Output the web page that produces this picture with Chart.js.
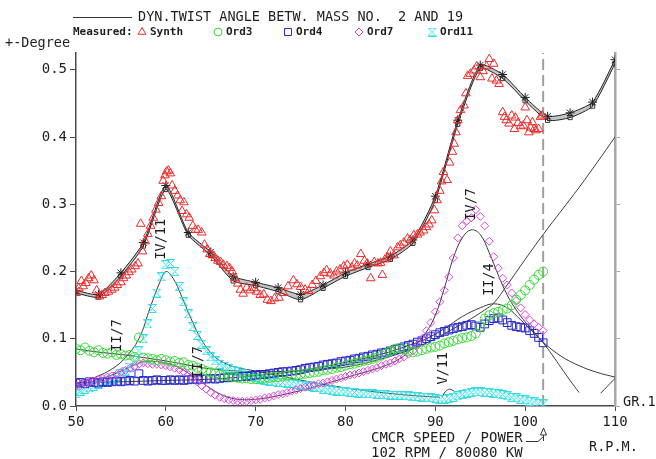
<!DOCTYPE html>
<html>
<head>
<meta charset="utf-8">
<script src="https://cdn.jsdelivr.net/npm/chart.js@4"></script>
<style>
  html, body { margin: 0; padding: 0; background: #fff; }
</style>
</head>
<body>
<canvas id="twist" width="656" height="459"></canvas>
<script>
// speed grid for the order analysis (rpm)
const rpm = [
  50, 50.5, 51, 51.5, 52, 52.5, 53, 53.5, 54, 54.5,
  55, 55.5, 56, 56.5, 57, 57.5, 58, 58.5, 59, 59.5,
  60, 60.5, 61, 61.5, 62, 62.5, 63, 63.5, 64, 64.5,
  65, 65.5, 66, 66.5, 67, 67.5, 68, 68.5, 69, 69.5,
  70, 70.5, 71, 71.5, 72, 72.5, 73, 73.5, 74, 74.5,
  75, 75.5, 76, 76.5, 77, 77.5, 78, 78.5, 79, 79.5,
  80, 80.5, 81, 81.5, 82, 82.5, 83, 83.5, 84, 84.5,
  85, 85.5, 86, 86.5, 87, 87.5, 88, 88.5, 89, 89.5,
  90, 90.5, 91, 91.5, 92, 92.5, 93, 93.5, 94, 94.5,
  95, 95.5, 96, 96.5, 97, 97.5, 98, 98.5, 99, 99.5,
  100, 100.5, 101, 101.5, 102
];

// measured order amplitudes (+- degree)
const ord3 = [
  0.085, 0.083, 0.087, 0.082, 0.080, 0.083, 0.079, 0.078, 0.080, 0.076,
  0.077, 0.075, 0.076, 0.073, 0.102, 0.072, 0.071, 0.070, 0.068, 0.070,
  0.068, 0.066, 0.067, 0.064, 0.065, 0.061, 0.060, 0.057, 0.055, 0.052,
  0.050, 0.048, 0.046, 0.045, 0.044, 0.043, 0.042, 0.041, 0.041, 0.040,
  0.040, 0.041, 0.041, 0.042, 0.043, 0.043, 0.044, 0.045, 0.046, 0.046,
  0.047, 0.048, 0.049, 0.050, 0.051, 0.053, 0.054, 0.055, 0.057, 0.058,
  0.060, 0.062, 0.063, 0.065, 0.067, 0.068, 0.070, 0.072, 0.075, 0.078,
  0.082, 0.085, 0.086, 0.084, 0.082, 0.080, 0.081, 0.083, 0.085, 0.087,
  0.088, 0.090, 0.093, 0.095, 0.097, 0.099, 0.101, 0.102, 0.104, 0.108,
  0.118, 0.130, 0.135, 0.138, 0.140, 0.143, 0.145, 0.150, 0.158, 0.165,
  0.172, 0.180, 0.188, 0.195, 0.200
];
const ord4 = [
  0.034, 0.035, 0.033, 0.036, 0.035, 0.034, 0.036, 0.035, 0.036, 0.037,
  0.036, 0.037, 0.038, 0.037, 0.048, 0.038, 0.037, 0.038, 0.039, 0.038,
  0.038, 0.039, 0.038, 0.039, 0.038, 0.039, 0.040, 0.039, 0.040, 0.040,
  0.041, 0.040, 0.041, 0.042, 0.042, 0.043, 0.043, 0.044, 0.044, 0.045,
  0.046, 0.047, 0.047, 0.048, 0.049, 0.050, 0.051, 0.051, 0.052, 0.053,
  0.054, 0.056, 0.057, 0.058, 0.059, 0.061, 0.062, 0.063, 0.064, 0.066,
  0.067, 0.068, 0.070, 0.071, 0.073, 0.074, 0.076, 0.077, 0.079, 0.080,
  0.082, 0.084, 0.086, 0.088, 0.090, 0.092, 0.095, 0.097, 0.100, 0.103,
  0.106, 0.109, 0.111, 0.113, 0.115, 0.117, 0.118, 0.120, 0.121, 0.119,
  0.117, 0.122, 0.127, 0.130, 0.131, 0.128, 0.124, 0.120, 0.118, 0.117,
  0.116, 0.112, 0.108, 0.102, 0.094
];
const ord7 = [
  0.030, 0.031, 0.033, 0.035, 0.037, 0.039, 0.041, 0.043, 0.045, 0.047,
  0.050, 0.053, 0.056, 0.059, 0.062, 0.064, 0.063, 0.062, 0.062, 0.061,
  0.060, 0.058, 0.056, 0.054, 0.051, 0.047, 0.042, 0.036, 0.030, 0.025,
  0.020, 0.016, 0.013, 0.011, 0.009, 0.008, 0.007, 0.007, 0.007, 0.008,
  0.009, 0.010, 0.012, 0.013, 0.015, 0.017, 0.018, 0.020, 0.022, 0.024,
  0.026, 0.028, 0.029, 0.031, 0.033, 0.034, 0.036, 0.038, 0.040, 0.042,
  0.044, 0.046, 0.047, 0.049, 0.051, 0.053, 0.055, 0.057, 0.060, 0.062,
  0.064, 0.067, 0.070, 0.073, 0.077, 0.082, 0.090, 0.100, 0.112, 0.124,
  0.140, 0.155, 0.172, 0.192, 0.220, 0.250, 0.268, 0.275, 0.280, 0.292,
  0.282, 0.268, 0.245, 0.222, 0.205, 0.190, 0.180, 0.168, 0.157, 0.146,
  0.136, 0.128, 0.122, 0.117, 0.112
];
const ord11 = [
  0.018, 0.022, 0.025, 0.027, 0.029, 0.032, 0.035, 0.037, 0.040, 0.044,
  0.048, 0.052, 0.058, 0.068, 0.082, 0.100, 0.122, 0.145, 0.168, 0.192,
  0.210, 0.212, 0.200, 0.178, 0.155, 0.137, 0.118, 0.105, 0.092, 0.082,
  0.073, 0.067, 0.062, 0.059, 0.056, 0.053, 0.051, 0.048, 0.046, 0.044,
  0.042, 0.040, 0.038, 0.037, 0.036, 0.035, 0.035, 0.034, 0.033, 0.032,
  0.031, 0.030, 0.029, 0.028, 0.027, 0.025, 0.024, 0.023, 0.022, 0.022,
  0.021, 0.020, 0.020, 0.019, 0.018, 0.018, 0.018, 0.017, 0.017, 0.017,
  0.016, 0.016, 0.016, 0.015, 0.015, 0.014, 0.014, 0.013, 0.013, 0.012,
  0.011, 0.010, 0.010, 0.011, 0.013, 0.015, 0.017, 0.019, 0.020, 0.021,
  0.021, 0.020, 0.020, 0.019, 0.018, 0.017, 0.015, 0.013, 0.012, 0.010,
  0.009, 0.007, 0.006, 0.004, 0.003
];

// measured synthesis [rpm, degree]
const synthMeasured = [
  [50.0, 0.168], [50.3, 0.175], [50.6, 0.186], [50.8, 0.178], [51.1, 0.183], [51.4, 0.190],
  [51.7, 0.194], [52.0, 0.187], [52.3, 0.172], [52.6, 0.163], [52.9, 0.165], [53.2, 0.168],
  [53.6, 0.170], [54.0, 0.173], [54.3, 0.176], [54.6, 0.180], [55.0, 0.184], [55.3, 0.190],
  [55.6, 0.194], [55.9, 0.199], [56.2, 0.203], [56.6, 0.208], [56.9, 0.212], [57.2, 0.271],
  [57.4, 0.230], [57.7, 0.245], [58.0, 0.256], [58.3, 0.268], [58.6, 0.280], [58.9, 0.292],
  [59.2, 0.302], [59.5, 0.312], [59.7, 0.335], [59.9, 0.343], [60.1, 0.349], [60.3, 0.350],
  [60.5, 0.346], [60.7, 0.328], [61.0, 0.320], [61.3, 0.313], [61.6, 0.306], [61.8, 0.290],
  [62.0, 0.303], [62.3, 0.285], [62.6, 0.280], [63.0, 0.268], [63.3, 0.262], [63.6, 0.262],
  [64.0, 0.258], [64.3, 0.240], [64.6, 0.233], [64.9, 0.226], [65.2, 0.224], [65.5, 0.220],
  [65.8, 0.216], [66.1, 0.214], [66.4, 0.210], [66.8, 0.208], [67.1, 0.205], [67.4, 0.200],
  [67.7, 0.190], [68.0, 0.182], [68.3, 0.173], [68.6, 0.167], [69.0, 0.176], [69.4, 0.172],
  [69.8, 0.175], [70.1, 0.170], [70.5, 0.165], [70.9, 0.166], [71.3, 0.158], [71.7, 0.156],
  [72.1, 0.160], [72.6, 0.161], [73.1, 0.168], [73.6, 0.178], [74.2, 0.187], [74.6, 0.181],
  [75.0, 0.177], [75.5, 0.173], [75.9, 0.171], [76.3, 0.180], [76.7, 0.186], [77.2, 0.193],
  [77.6, 0.198], [77.9, 0.202], [78.3, 0.197], [78.7, 0.194], [79.0, 0.200], [79.4, 0.203],
  [79.8, 0.208], [80.2, 0.210], [80.7, 0.206], [81.0, 0.212], [81.3, 0.209], [81.7, 0.226],
  [82.1, 0.216], [82.4, 0.212], [82.8, 0.190], [83.2, 0.214], [83.6, 0.212], [83.9, 0.213],
  [84.1, 0.195], [84.4, 0.218], [84.7, 0.221], [85.0, 0.230], [85.4, 0.224], [85.8, 0.236],
  [86.1, 0.239], [86.5, 0.243], [86.9, 0.249], [87.2, 0.247], [87.6, 0.254], [88.0, 0.255],
  [88.3, 0.258], [88.7, 0.261], [89.0, 0.266], [89.3, 0.270], [89.6, 0.276], [89.9, 0.291],
  [90.2, 0.306], [90.5, 0.320], [90.7, 0.334], [90.9, 0.348], [91.3, 0.336], [91.6, 0.362],
  [91.9, 0.378], [92.1, 0.390], [92.3, 0.407], [92.5, 0.425], [92.8, 0.440], [93.2, 0.447],
  [93.4, 0.465], [93.6, 0.491], [93.9, 0.494], [94.3, 0.499], [94.6, 0.505], [95.0, 0.489],
  [95.3, 0.498], [95.7, 0.505], [96.0, 0.516], [96.3, 0.487], [96.5, 0.509], [96.8, 0.484],
  [97.1, 0.479], [97.5, 0.437], [97.7, 0.430], [97.9, 0.425], [98.2, 0.420], [98.5, 0.432],
  [98.8, 0.412], [98.9, 0.429], [99.2, 0.421], [99.5, 0.416], [99.8, 0.417], [100.0, 0.444],
  [100.2, 0.425], [100.4, 0.407], [100.6, 0.414], [100.8, 0.422], [101.0, 0.412], [101.2, 0.410],
  [101.5, 0.412], [101.7, 0.430], [101.9, 0.432]
];

// calculated synthesis, two damping variants
const calcRpm = [50, 52.5, 55, 57.5, 60, 62.5, 65, 67.5, 70, 72.5, 75, 77.5, 80,
  82.5, 85, 87.5, 90, 92.5, 95, 97.5, 100, 102.5, 105, 107.5, 110];
const calcUpper = [0.172, 0.166, 0.198, 0.243, 0.328, 0.258, 0.229, 0.193, 0.184, 0.176, 0.166, 0.180, 0.198,
  0.211, 0.223, 0.247, 0.312, 0.425, 0.507, 0.493, 0.459, 0.431, 0.436, 0.452, 0.515];
const calcLower = [0.168, 0.162, 0.193, 0.238, 0.322, 0.254, 0.224, 0.186, 0.179, 0.170, 0.158, 0.175, 0.193,
  0.206, 0.218, 0.242, 0.306, 0.419, 0.502, 0.487, 0.454, 0.425, 0.429, 0.446, 0.509];

// calculated order curves [rpm, degree]
const calcII3 = [[50, 0.085], [52, 0.081], [54, 0.078], [56, 0.075], [58, 0.071], [60, 0.067], [62, 0.062],
  [64, 0.057], [66, 0.054], [68, 0.052], [70, 0.051], [72, 0.051], [74, 0.052], [76, 0.053], [78, 0.055],
  [80, 0.058], [82, 0.063], [84, 0.070], [86, 0.078], [88, 0.088], [90, 0.100], [92, 0.115], [94, 0.130],
  [95.5, 0.143], [96.5, 0.153], [98, 0.180], [100, 0.218], [102, 0.255], [104, 0.290], [106, 0.325],
  [108, 0.362], [110, 0.400]];
const calcII4 = [[50, 0.035], [55, 0.036], [60, 0.038], [65, 0.040], [70, 0.045], [75, 0.053], [80, 0.065],
  [84, 0.077], [87, 0.090], [89, 0.100], [91, 0.115], [93, 0.133], [95, 0.146], [96.5, 0.152], [98, 0.146],
  [99.5, 0.128], [101, 0.108], [102, 0.094], [103, 0.076], [104, 0.057], [105, 0.038], [106, 0.020]];
const calcIV7 = [[50, 0.030], [52, 0.037], [54, 0.046], [56, 0.058], [57.5, 0.066], [59, 0.066], [60.5, 0.062],
  [62, 0.053], [63.5, 0.040], [65, 0.026], [66.5, 0.015], [68, 0.010], [70, 0.010], [72, 0.014], [75, 0.023],
  [78, 0.034], [81, 0.046], [84, 0.058], [86, 0.070], [87.6, 0.088], [89, 0.110], [90, 0.135], [91, 0.175],
  [92, 0.220], [93, 0.250], [94, 0.262], [95, 0.255], [96, 0.228], [97, 0.195], [98, 0.165], [99, 0.143],
  [100, 0.125], [101, 0.110], [102, 0.095], [104, 0.074], [106, 0.060], [108, 0.050], [110, 0.043]];
const calcIV11 = [[50, 0.032], [52, 0.042], [54, 0.055], [55.5, 0.072], [57, 0.100], [58.3, 0.148],
  [59.3, 0.183], [60, 0.200], [60.8, 0.190], [61.7, 0.165], [62.8, 0.130], [64, 0.098], [65.3, 0.075],
  [66.5, 0.064], [68, 0.057], [70, 0.052], [73, 0.044], [76, 0.036], [80, 0.027], [84, 0.020],
  [88, 0.015], [90.5, 0.013]];
const calcV11 = [[90.8, 0.014], [91.1, 0.021], [91.6, 0.025], [92.1, 0.022]];
const calcHigh = [[108.4, 0.019], [109.2, 0.030], [110, 0.041]];

// order curve captions [text, rpm, degree]
const orderLabels = [
  ['II/7', 54.6, 0.105], ['IV/11', 59.5, 0.248], ['II/7', 63.6, 0.065],
  ['V/11', 90.9, 0.056], ['IV/7', 94.0, 0.300], ['II/4', 96.0, 0.188]
];

const MCR_RPM = 102;
const Y_TOP = 0.525;

const RED = '#ec2b2b', GREEN = '#3ad83a', BLUE = '#2626c8', MAGENTA = '#dd44dd', CYAN = '#2fdde6';
const MONO = '"DejaVu Sans Mono", monospace';

function hourglass(color, size) {
  const c = document.createElement('canvas');
  c.width = size; c.height = size;
  const g = c.getContext('2d');
  const s = size - 0.5;
  g.strokeStyle = color;
  g.lineWidth = 1;
  g.beginPath();
  g.moveTo(0.5, 0.5); g.lineTo(s, 0.5);
  g.lineTo(0.5, s); g.lineTo(s, s);
  g.closePath();
  g.stroke();
  return c;
}
const hourglassCyan = hourglass(CYAN, 9);

const toPoints = (vals) => rpm.map((r, i) => ({ x: r, y: vals[i] }));
const zipCalc = (vals) => calcRpm.map((r, i) => ({ x: r, y: vals[i] }));

function markers(label, data, style, radius, color) {
  return {
    label, data, showLine: false, pointStyle: style, pointRadius: radius,
    pointBorderColor: color, pointBackgroundColor: 'rgba(0,0,0,0)', pointBorderWidth: 1
  };
}
function thinCurve(label, data) {
  return {
    label, data, showLine: true, borderColor: '#3c3c3c', borderWidth: 1, tension: 0.4,
    pointRadius: 0, fill: false
  };
}

function putText(ctx, str, x, y, size, opts = {}) {
  ctx.save();
  ctx.font = (opts.weight || 'normal') + ' ' + size + 'px ' + MONO;
  ctx.fillStyle = opts.color || '#1e1e1e';
  ctx.textAlign = opts.align || 'left';
  ctx.textBaseline = 'middle';
  ctx.translate(x, y);
  if (opts.rotate) ctx.rotate(opts.rotate);
  ctx.fillText(str, 0, 0);
  ctx.restore();
}

// headers, legend, captions and footer text
const annotations = {
  id: 'annotations',
  afterDatasetsDraw(chart) {
    const { ctx, scales } = chart;
    orderLabels.forEach(([t, x, y]) => {
      putText(ctx, t, scales.x.getPixelForValue(x), scales.y.getPixelForValue(y), 13.5,
        { align: 'center', rotate: -Math.PI / 2 });
    });
  },
  afterDraw(chart) {
    const { ctx } = chart;
    const helpers = Chart.helpers;

    // title with calculated-line sample
    ctx.save();
    ctx.strokeStyle = '#333';
    ctx.lineWidth = 1;
    ctx.beginPath();
    ctx.moveTo(73, 17.5); ctx.lineTo(132, 17.5);
    ctx.stroke();
    ctx.restore();
    putText(ctx, 'DYN.TWIST ANGLE BETW. MASS NO.  2 AND 19', 138, 17, 13.5);

    // measured legend
    putText(ctx, 'Measured:', 73, 32, 11, { weight: 'bold' });
    const items = [
      ['Synth', 142, 'triangle', 4.5, RED],
      ['Ord3', 218, 'circle', 4, GREEN],
      ['Ord4', 288, 'rect', 5, BLUE],
      ['Ord7', 359, 'rectRot', 4, MAGENTA],
      ['Ord11', 432, hourglassCyan, 4.5, CYAN]
    ];
    items.forEach(([t, x, style, r, col]) => {
      ctx.save();
      ctx.strokeStyle = col;
      ctx.fillStyle = 'rgba(0,0,0,0)';
      ctx.lineWidth = 1;
      helpers.drawPoint(ctx, { pointStyle: style, radius: r, rotation: 0, borderWidth: 1 }, x, 32);
      ctx.restore();
      putText(ctx, t, x + 8, 32, 11, { weight: 'bold' });
    });

    putText(ctx, '+-Degree', 5, 43, 13.5);

    // footer
    putText(ctx, 'CMCR SPEED / POWER', 371, 438, 14);
    putText(ctx, '102 RPM / 80080 KW', 371, 453, 14);
    putText(ctx, 'R.P.M.', 589, 447, 13.5);
    putText(ctx, 'GR.1', 623, 402, 13.5);

    // pointer to the MCR line
    ctx.save();
    ctx.strokeStyle = '#333';
    ctx.lineWidth = 1;
    ctx.beginPath();
    ctx.moveTo(526, 441.5); ctx.lineTo(538, 441.5); ctx.lineTo(543, 437);
    ctx.moveTo(543.5, 428); ctx.lineTo(540.5, 435); ctx.lineTo(546.5, 435); ctx.closePath();
    ctx.moveTo(543.5, 435); ctx.lineTo(543.5, 441);
    ctx.stroke();
    ctx.restore();
  }
};

new Chart(document.getElementById('twist'), {
  type: 'scatter',
  data: {
    datasets: [
      markers('Synth', synthMeasured, 'triangle', 5, RED),
      markers('Ord3', toPoints(ord3), 'circle', 4.5, GREEN),
      markers('Ord7', toPoints(ord7), 'rectRot', 4, MAGENTA),
      markers('Ord4', toPoints(ord4), 'rect', 5.5, BLUE),
      markers('Ord11', toPoints(ord11), hourglassCyan, 4.5, CYAN),
      thinCurve('II/3', calcII3),
      thinCurve('II/4', calcII4),
      thinCurve('IV/7', calcIV7),
      thinCurve('IV/11', calcIV11),
      thinCurve('V/11', calcV11),
      thinCurve('high', calcHigh),
      {
        label: 'MCR', data: [{ x: MCR_RPM, y: 0 }, { x: MCR_RPM, y: Y_TOP }], showLine: true,
        borderColor: '#a0a0a0', borderWidth: 2, borderDash: [11, 5], pointRadius: 0
      },
      {
        label: 'Calc upper', data: zipCalc(calcUpper), showLine: true, borderColor: '#222',
        borderWidth: 1, tension: 0.2, pointStyle: 'star', pointRadius: 4.5,
        pointBorderColor: '#222', pointBorderWidth: 1
      },
      {
        label: 'Calc lower', data: zipCalc(calcLower), showLine: true, borderColor: '#222',
        borderWidth: 1, tension: 0.2, pointStyle: 'rect', pointRadius: 3,
        pointBorderColor: '#333', pointBackgroundColor: 'rgba(0,0,0,0)', pointBorderWidth: 1,
        fill: '-1', backgroundColor: 'rgba(150,150,150,0.55)'
      }
    ]
  },
  options: {
    responsive: false,
    animation: false,
    events: [],
    layout: { padding: { left: 0, top: 53, right: 31, bottom: 23 } },
    plugins: { legend: { display: false }, tooltip: { enabled: false } },
    scales: {
      x: {
        type: 'linear', min: 50, max: 110,
        afterFit: (s) => { s.height = 30; },
        border: { display: true, color: '#4a4a4a', width: 1.5 },
        grid: { drawOnChartArea: false, drawTicks: true, tickLength: 5, color: '#4a4a4a' },
        ticks: { stepSize: 10, padding: 3, color: '#222', font: { family: MONO, size: 14 } }
      },
      y: {
        type: 'linear', min: 0, max: Y_TOP,
        afterFit: (s) => { s.width = 76; },
        border: { display: true, color: '#4a4a4a', width: 1.5 },
        grid: { drawOnChartArea: false, drawTicks: true, tickLength: 6, color: '#4a4a4a' },
        ticks: {
          stepSize: 0.1, includeBounds: false, padding: 3, color: '#222',
          font: { family: MONO, size: 14 }, callback: (v) => v.toFixed(1)
        }
      },
      y2: {
        type: 'linear', position: 'right', min: 0, max: Y_TOP,
        afterFit: (s) => { s.width = 10; },
        border: { display: true, color: '#a8a8a8', width: 2.5 },
        grid: { drawOnChartArea: false, drawTicks: true, tickLength: 5, color: '#a8a8a8' },
        ticks: { stepSize: 0.1, includeBounds: false, display: false }
      }
    }
  },
  plugins: [annotations]
});
</script>
</body>
</html>
